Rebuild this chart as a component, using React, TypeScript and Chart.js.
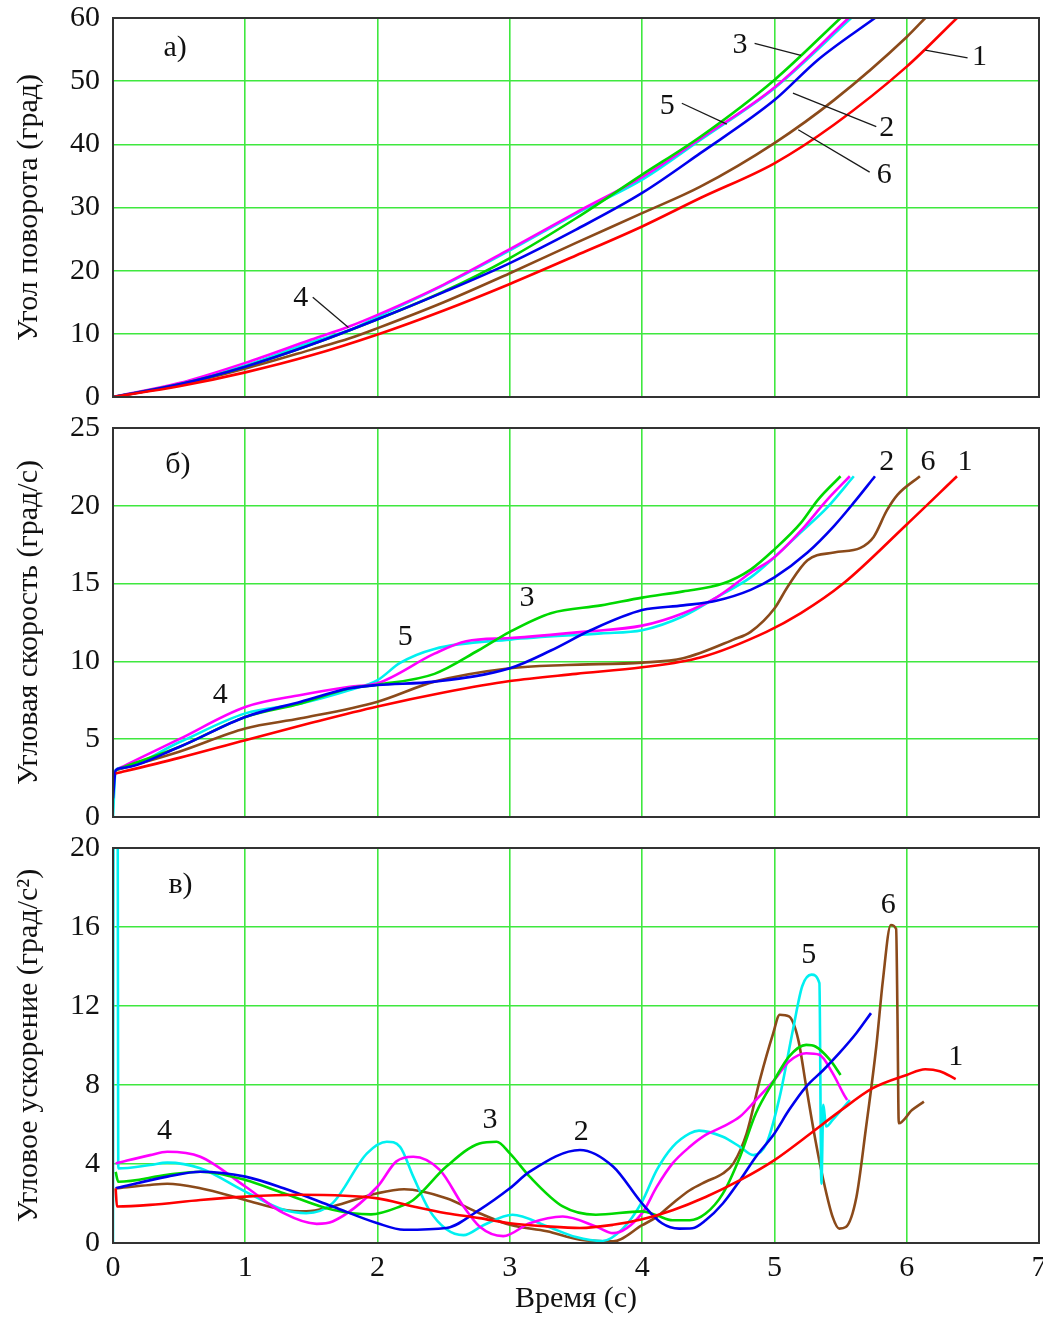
import React, { useEffect, useRef } from "react";
import { Chart, registerables } from "chart.js";
Chart.register(...registerables);

type Pt = [number, number];
type Ann = { text: string; x: number; y: number };
type Lead = [number, number, number, number];

// ---------- shared ----------
const timeMin = 0;
const timeMax = 7;
const timeStep = 1;
const curveNames = ["1", "2", "3", "4", "5", "6"];
const curveColors = ["#ff0000", "#0000ee", "#00d800", "#ff00ff", "#00f0f0", "#8b4a1a"];
const xTitle = "Время (с)";

// ---------- а) angle of rotation (deg) ----------
const angleTicks = { min: 0, max: 60, step: 10 };
const angleTitle = "Угол поворота (град)";
const angle1: Pt[] = [[0,0],[0.5,1.7],[1,3.9],[1.5,6.6],[2,9.9],[2.5,13.7],[3,17.9],[3.5,22.4],[4,27.0],[4.44,31.5],[5,37.0],[5.45,43.1],[6,52.3],[6.38,60]];
const angle2: Pt[] = [[0,0],[0.5,2.0],[1,4.8],[1.5,8.3],[2,12.3],[2.5,16.6],[3,21.2],[3.5,26.5],[4,32.3],[4.44,38.6],[5,47.0],[5.33,53.4],[5.76,60]];
const angle3: Pt[] = [[0,0],[0.5,2.0],[1,4.8],[1.5,8.3],[2,12.3],[2.5,16.7],[3,22.0],[3.5,28.3],[4,35.2],[4.44,41.2],[5,50.2],[5.5,60]];
const angle4: Pt[] = [[0,0],[0.5,2.2],[1,5.4],[1.5,9.1],[1.79,11.2],[2,13.0],[2.5,17.8],[3,23.4],[3.5,29.2],[4,34.8],[4.44,40.9],[5,49.0],[5.56,60]];
const angle5: Pt[] = [[0,0],[0.5,2.1],[1,5.0],[1.5,8.7],[1.79,10.6],[2,12.7],[2.5,17.7],[3,23.2],[3.5,29.0],[4,34.4],[4.44,40.7],[5,48.9],[5.58,60]];
const angle6: Pt[] = [[0,0],[0.5,1.9],[1,4.5],[1.5,7.5],[1.79,9.3],[2,10.9],[2.5,15.0],[3,19.6],[3.5,24.4],[4,29.1],[4.44,33.3],[5,40.2],[5.45,47.0],[6,57.0],[6.14,60]];
const angleLabels: Ann[] = [
  { text: "а)", x: 0.47, y: 55.2 },
  { text: "4", x: 1.42, y: 15.7 },
  { text: "3", x: 4.74, y: 55.7 },
  { text: "5", x: 4.19, y: 46.1 },
  { text: "2", x: 5.85, y: 42.6 },
  { text: "6", x: 5.83, y: 35.2 },
  { text: "1", x: 6.55, y: 53.8 },
];
const angleLeaders: Lead[] = [
  [1.51, 15.8, 1.78, 11.0],
  [4.85, 56.0, 5.2, 54.1],
  [4.3, 46.5, 4.64, 43.2],
  [5.77, 42.8, 5.14, 48.1],
  [5.72, 35.6, 5.18, 42.3],
  [6.46, 53.7, 6.14, 54.9],
];

// ---------- б) angular velocity (deg/s) ----------
const velTicks = { min: 0, max: 25, step: 5 };
const velTitle = "Угловая скорость (град/с)";
const vel1: Pt[] = [[0.02,2.8],[0.06,2.88],[0.5,3.8],[1,4.94],[1.5,6.05],[2,7.1],[2.5,8.0],[3,8.74],[3.5,9.2],[4,9.62],[4.44,10.25],[4.94,11.9],[5.2,13.1],[5.52,15.0],[6,18.8],[6.38,21.9]];
const vel2: Pt[] = [[0,1.2],[0.02,3.0],[0.06,3.14],[0.5,4.5],[1,6.43],[1.42,7.41],[1.79,8.27],[2,8.48],[2.43,8.7],[3,9.56],[3.31,10.7],[3.61,12.0],[4,13.3],[4.31,13.6],[4.56,13.9],[4.82,14.6],[5,15.4],[5.25,17.0],[5.45,18.7],[5.6,20.2],[5.76,21.9]];
const vel3: Pt[] = [[0.02,3.0],[0.06,3.14],[0.5,4.5],[1,6.43],[1.42,7.3],[1.79,8.27],[2,8.5],[2.43,9.2],[2.76,10.7],[3,11.9],[3.31,13.1],[3.69,13.6],[4,14.1],[4.31,14.5],[4.61,15.0],[4.82,15.9],[5,17.2],[5.2,18.9],[5.33,20.4],[5.5,21.9]];
const vel4: Pt[] = [[0.02,3.0],[0.06,3.18],[0.5,5.0],[1,7.07],[1.42,7.84],[1.79,8.37],[2,8.6],[2.43,10.5],[2.67,11.3],[3,11.5],[3.55,11.9],[4,12.3],[4.31,13.1],[4.56,14.1],[4.82,15.7],[5,16.7],[5.2,18.4],[5.4,20.4],[5.57,21.9]];
const vel5: Pt[] = [[0,0],[0.02,3.0],[0.06,3.16],[0.5,4.8],[1,6.66],[1.42,7.3],[1.79,8.16],[2,8.8],[2.17,9.9],[2.43,10.8],[3,11.4],[3.69,11.8],[4,12.0],[4.31,12.9],[4.56,14.1],[4.82,15.4],[5,16.7],[5.2,18.3],[5.4,19.9],[5.6,21.9]];
const vel6: Pt[] = [[0.02,3.0],[0.06,3.1],[0.5,4.2],[1,5.69],[1.42,6.34],[2,7.41],[2.43,8.7],[3,9.56],[3.43,9.77],[4,9.92],[4.31,10.2],[4.69,11.4],[4.82,11.9],[5,13.4],[5.1,14.8],[5.25,16.5],[5.45,17.0],[5.65,17.3],[5.75,18.0],[5.85,19.7],[5.93,20.7],[6.1,21.9]];
const velLabels: Ann[] = [
  { text: "б)", x: 0.49, y: 22.6 },
  { text: "4", x: 0.81, y: 7.84 },
  { text: "5", x: 2.21, y: 11.57 },
  { text: "3", x: 3.13, y: 14.07 },
  { text: "2", x: 5.85, y: 22.8 },
  { text: "6", x: 6.16, y: 22.8 },
  { text: "1", x: 6.44, y: 22.8 },
];

// ---------- в) angular acceleration (deg/s^2) ----------
const accTicks = { min: 0, max: 20, step: 4 };
const accTitle = "Угловое ускорение (град/с²)";
const acc1: Pt[] = [[0.02,2.77],[0.03,1.85],[0.28,1.93],[0.66,2.18],[1,2.35],[1.41,2.44],[2,2.26],[2.27,1.85],[2.52,1.51],[2.77,1.26],[3,1.0],[3.28,0.84],[3.53,0.76],[3.78,0.92],[4,1.2],[4.23,1.66],[4.48,2.33],[4.74,3.18],[5,4.2],[5.24,5.38],[5.49,6.65],[5.74,7.83],[6,8.51],[6.14,8.8],[6.25,8.7],[6.37,8.3]];
const acc2: Pt[] = [[0.02,2.77],[0.41,3.36],[0.66,3.61],[1,3.36],[1.29,2.77],[1.66,1.85],[2,1.0],[2.2,0.67],[2.52,0.76],[2.77,1.68],[3,2.77],[3.15,3.61],[3.53,4.71],[3.78,3.87],[4,2.0],[4.15,1.0],[4.28,0.73],[4.38,0.75],[4.48,1.15],[4.61,2.0],[4.74,3.18],[4.86,4.37],[5,5.55],[5.11,6.73],[5.24,7.92],[5.37,8.76],[5.49,9.61],[5.62,10.63],[5.73,11.64]];
const acc3: Pt[] = [[0.02,3.6],[0.04,3.1],[0.41,3.45],[0.66,3.61],[1,3.19],[1.29,2.52],[1.66,1.68],[1.95,1.45],[2.17,1.85],[2.27,2.18],[2.52,3.87],[2.77,5.04],[2.9,5.13],[3,4.54],[3.15,3.36],[3.4,1.85],[3.65,1.43],[4,1.6],[4.11,1.4],[4.23,1.15],[4.36,1.15],[4.48,1.49],[4.61,2.5],[4.74,4.37],[4.86,6.57],[5,8.26],[5.11,9.44],[5.24,10.03],[5.31,9.95],[5.42,9.27],[5.5,8.51]];
const acc4: Pt[] = [[0.02,4.03],[0.28,4.45],[0.41,4.62],[0.66,4.37],[1,2.86],[1.29,1.51],[1.54,0.97],[1.66,1.09],[2,2.86],[2.14,4.12],[2.27,4.37],[2.47,3.7],[2.65,1.85],[2.77,0.84],[2.95,0.35],[3.15,1.0],[3.4,1.34],[3.65,0.84],[3.78,0.5],[4,1.51],[4.11,2.84],[4.23,4.03],[4.36,4.87],[4.48,5.47],[4.61,5.89],[4.74,6.4],[4.86,7.24],[5,8.26],[5.11,9.19],[5.24,9.61],[5.34,9.53],[5.44,8.6],[5.52,7.58],[5.55,7.24]];
const acc5: Pt[] = [[0,0],[0.005,22],[0.035,22],[0.04,3.78],[0.28,3.95],[0.41,4.07],[0.66,3.78],[1,2.6],[1.29,1.68],[1.46,1.51],[1.66,2.02],[1.92,4.54],[2.07,5.13],[2.17,4.87],[2.27,3.36],[2.39,1.68],[2.52,0.7],[2.65,0.4],[2.8,0.9],[3.02,1.43],[3.28,0.85],[3.5,0.3],[3.7,0.1],[3.85,0.7],[4,2.1],[4.11,3.69],[4.23,4.87],[4.36,5.55],[4.43,5.69],[4.61,5.38],[4.74,4.87],[4.84,4.45],[4.94,5.04],[5.04,7.41],[5.14,10.8],[5.21,13.0],[5.28,13.59],[5.34,13.16],[5.355,3.0],[5.37,7.0],[5.39,5.9],[5.44,6.23],[5.57,7.24]];
const acc6: Pt[] = [[0.02,2.77],[0.28,2.94],[0.41,3.0],[0.66,2.77],[1,2.18],[1.29,1.68],[1.46,1.6],[1.66,1.85],[2,2.52],[2.2,2.72],[2.52,2.27],[2.77,1.51],[3,0.92],[3.28,0.59],[3.53,0.17],[3.78,0.08],[4,0.9],[4.11,1.32],[4.23,2.0],[4.36,2.67],[4.48,3.1],[4.61,3.52],[4.69,4.03],[4.79,5.55],[4.89,8.26],[4.99,10.6],[5.04,11.56],[5.11,11.47],[5.18,10.3],[5.24,7.92],[5.31,5.2],[5.37,3.18],[5.44,1.32],[5.49,0.73],[5.54,0.81],[5.62,2.33],[5.69,5.72],[5.77,9.95],[5.82,13.3],[5.88,16.1],[5.92,15.9],[5.93,11.6],[5.94,6.06],[6.04,6.73],[6.13,7.16]];
const accLabels: Ann[] = [
  { text: "в)", x: 0.51, y: 18.1 },
  { text: "4", x: 0.39, y: 5.67 },
  { text: "3", x: 2.85, y: 6.23 },
  { text: "2", x: 3.54, y: 5.62 },
  { text: "5", x: 5.26, y: 14.58 },
  { text: "6", x: 5.86, y: 17.1 },
  { text: "1", x: 6.37, y: 9.42 },
];

// ---------- styling ----------
const FONT = "'Liberation Serif', 'Times New Roman', serif";
const FS = 30;
const GRID = "#3fe83f";
const INK = "#111111";

function annotPlugin(labels: Ann[], leaders: Lead[]) {
  return {
    id: "annot",
    afterDatasetsDraw(chart: any) {
      const { ctx, chartArea: a, scales } = chart;
      const xs = scales.x, ys = scales.y;
      ctx.save();
      ctx.strokeStyle = "#333333";
      ctx.lineWidth = 2;
      ctx.strokeRect(a.left, a.top, a.right - a.left, a.bottom - a.top);
      ctx.strokeStyle = "#1a1a1a";
      ctx.lineWidth = 1.3;
      for (const [x1, y1, x2, y2] of leaders) {
        ctx.beginPath();
        ctx.moveTo(xs.getPixelForValue(x1), ys.getPixelForValue(y1));
        ctx.lineTo(xs.getPixelForValue(x2), ys.getPixelForValue(y2));
        ctx.stroke();
      }
      ctx.fillStyle = INK;
      ctx.font = `${FS}px ${FONT}`;
      ctx.textAlign = "center";
      ctx.textBaseline = "middle";
      for (const l of labels) {
        ctx.fillText(l.text, xs.getPixelForValue(l.x), ys.getPixelForValue(l.y));
      }
      ctx.restore();
    },
  };
}

type PanelSpec = {
  series: Pt[][];
  ticks: { min: number; max: number; step: number };
  title: string;
  labels: Ann[];
  leaders: Lead[];
  showX: boolean;
  padTop: number;
  padBottom: number;
  xHeight: number;
};

function makeChart(canvas: HTMLCanvasElement, p: PanelSpec) {
  const datasets = p.series.map((s, i) => ({
    label: curveNames[i],
    data: s.map(([x, y]) => ({ x, y })),
    borderColor: curveColors[i],
    backgroundColor: curveColors[i],
    borderWidth: 2.6,
    pointRadius: 0,
    fill: false,
    cubicInterpolationMode: "monotone" as const,
  }));
  return new Chart(canvas, {
    type: "line",
    data: { datasets },
    plugins: [annotPlugin(p.labels, p.leaders)],
    options: {
      animation: false,
      responsive: false,
      devicePixelRatio: 1,
      layout: { padding: { left: 0, right: 4, top: p.padTop, bottom: p.padBottom } },
      plugins: { legend: { display: false }, tooltip: { enabled: false } },
      scales: {
        x: {
          type: "linear",
          min: timeMin,
          max: timeMax,
          ticks: {
            display: p.showX,
            stepSize: timeStep,
            color: INK,
            padding: 7,
            font: { family: FONT, size: FS },
          },
          grid: { color: GRID, lineWidth: 1.6, drawTicks: false },
          border: { display: false },
          title: {
            display: p.showX,
            text: xTitle,
            color: INK,
            font: { family: FONT, size: FS },
            padding: { top: 0, bottom: 0 },
          },
          afterFit: (s: any) => {
            s.height = p.xHeight;
            s.paddingLeft = 0;
            s.paddingRight = 0;
          },
        },
        y: {
          type: "linear",
          min: p.ticks.min,
          max: p.ticks.max,
          ticks: {
            stepSize: p.ticks.step,
            color: INK,
            padding: 13,
            font: { family: FONT, size: FS },
          },
          grid: { color: GRID, lineWidth: 1.6, drawTicks: false },
          border: { display: false },
          title: {
            display: true,
            text: p.title,
            color: INK,
            font: { family: FONT, size: FS },
            padding: { top: 11, bottom: 0 },
          },
          afterFit: (s: any) => {
            s.width = 113;
            s.paddingTop = 0;
            s.paddingBottom = 0;
          },
        },
      },
    },
  } as any);
}

export default function App() {
  const ra = useRef<HTMLCanvasElement>(null);
  const rb = useRef<HTMLCanvasElement>(null);
  const rc = useRef<HTMLCanvasElement>(null);

  useEffect(() => {
    const charts: Chart[] = [];
    if (ra.current)
      charts.push(
        makeChart(ra.current, {
          series: [angle1, angle2, angle3, angle4, angle5, angle6],
          ticks: angleTicks,
          title: angleTitle,
          labels: angleLabels,
          leaders: angleLeaders,
          showX: false,
          padTop: 18,
          padBottom: 13,
          xHeight: 0,
        })
      );
    if (rb.current)
      charts.push(
        makeChart(rb.current, {
          series: [vel1, vel2, vel3, vel4, vel5, vel6],
          ticks: velTicks,
          title: velTitle,
          labels: velLabels,
          leaders: [],
          showX: false,
          padTop: 18,
          padBottom: 13,
          xHeight: 0,
        })
      );
    if (rc.current)
      charts.push(
        makeChart(rc.current, {
          series: [acc1, acc2, acc3, acc4, acc5, acc6],
          ticks: accTicks,
          title: accTitle,
          labels: accLabels,
          leaders: [],
          showX: true,
          padTop: 18,
          padBottom: 0,
          xHeight: 74,
        })
      );
    return () => charts.forEach((c) => c.destroy());
  }, []);

  const cv = (top: number, h: number): React.CSSProperties => ({
    position: "absolute",
    left: 0,
    top,
    width: 1043,
    height: h,
  });

  return (
    <div style={{ position: "absolute", left: 0, top: 0, width: 1043, height: 1317, background: "#ffffff", overflow: "hidden" }}>
      <canvas ref={ra} width={1043} height={410} style={cv(0, 410)} />
      <canvas ref={rb} width={1043} height={420} style={cv(410, 420)} />
      <canvas ref={rc} width={1043} height={487} style={cv(830, 487)} />
    </div>
  );
}
